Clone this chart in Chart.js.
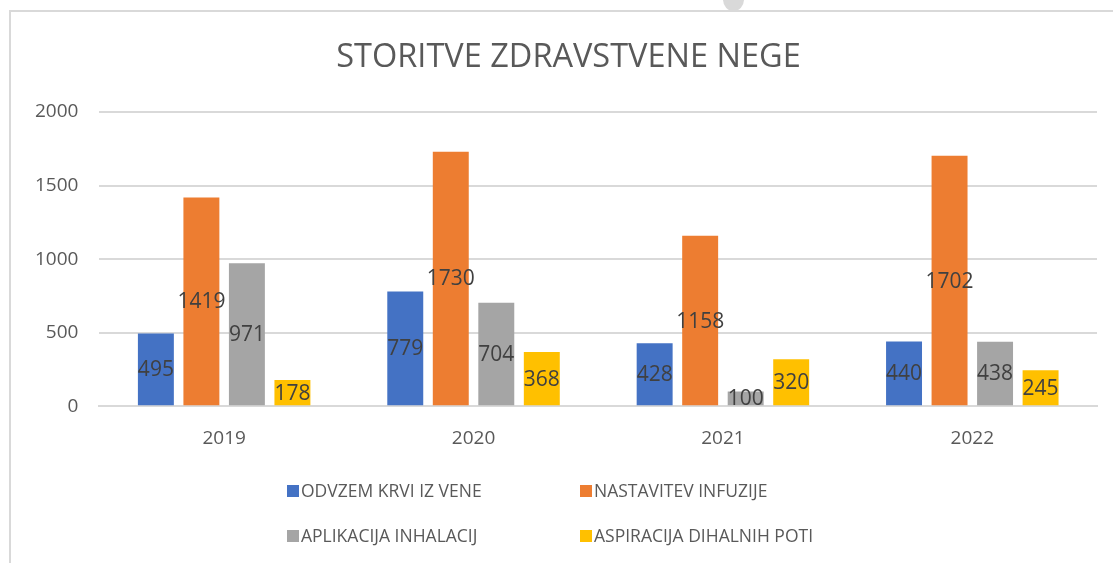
<!DOCTYPE html>
<html>
<head>
<meta charset="utf-8">
<script src="https://cdn.jsdelivr.net/npm/chart.js@4/dist/chart.umd.min.js"></script>
<style>
  html, body { margin: 0; padding: 0; background: #fff; overflow: hidden; }
  #wrap { position: relative; width: 1113px; height: 563px; }
  #frame { position: absolute; left: 9px; top: 10px; width: 1200px; height: 700px; border: 2px solid #d9d9d9; box-sizing: border-box; }
  #blob { position: absolute; left: 723px; top: -12px; width: 21px; height: 23px; border-radius: 50%; background: #d9d9d9; }
  #Chart { position: absolute; left: 0; top: 0; }
</style>
</head>
<body>
<div id="wrap">
  <div id="frame"></div>
  <div id="blob"></div>
  <canvas id="Chart" width="1113" height="563"></canvas>
</div>
<script>
const years = ['2019', '2020', '2021', '2022']
const odvzem = [495, 779, 428, 440]
const infuzije = [1419, 1730, 1158, 1702]
const inhalacij = [971, 704, 100, 438]
const aspiracija = [178, 368, 320, 245]
const yTicks = [0, 500, 1000, 1500, 2000]

const font = "'Open Sans', sans-serif"
const ctx = document.getElementById('Chart').getContext('2d');

// values written in the middle of each bar, like the Excel "center" label
const barLabels = {
    id: 'barLabels',
    afterLayout(chart) {
        // title in the original sits a bit right of the canvas middle
        chart.titleBlock.left = 40
    },
    afterDatasetsDraw(chart) {
        const c = chart.ctx
        c.save()
        c.font = '21px ' + font
        c.fillStyle = '#404040'
        c.textAlign = 'center'
        c.textBaseline = 'middle'
        chart.data.datasets.forEach((ds, i) => {
            chart.getDatasetMeta(i).data.forEach((bar, j) => {
                c.fillText(ds.data[j], bar.x, (bar.y + bar.base) / 2 + 1)
            })
        })
        c.restore()
    }
}

// legend in two columns under the chart
const sideLegend = {
    id: 'sideLegend',
    afterDraw(chart) {
        const c = chart.ctx
        const cols = [287, 580]
        const rows = [491, 536]
        c.save()
        c.font = '17.5px ' + font
        c.textBaseline = 'middle'
        chart.data.datasets.forEach((ds, i) => {
            let x = cols[i % 2]
            let y = rows[Math.floor(i / 2)]
            c.fillStyle = ds.backgroundColor
            c.fillRect(x, y - 6, 12, 12)
            c.fillStyle = '#595959'
            c.fillText(ds.label, x + 14, y + 1)
        })
        c.restore()
    }
}

let myChart = new Chart(ctx, {
    type: 'bar',
    data: {
        labels: years,
        datasets: [{
            label: 'ODVZEM KRVI IZ VENE',
            data: odvzem,
            backgroundColor: '#4472C4'
        }, {
            label: 'NASTAVITEV INFUZIJE',
            data: infuzije,
            backgroundColor: '#ED7D31'
        }, {
            label: 'APLIKACIJA INHALACIJ',
            data: inhalacij,
            backgroundColor: '#A5A5A5'
        }, {
            label: 'ASPIRACIJA DIHALNIH POTI',
            data: aspiracija,
            backgroundColor: '#FFC000'
        }]
    },
    options: {
        responsive: false,
        animation: false,
        events: [],
        categoryPercentage: 0.73,
        barPercentage: 0.79,
        layout: {
            padding: { left: 14, right: 16, top: 0, bottom: 100 }
        },
        plugins: {
            legend: { display: false },
            tooltip: { enabled: false },
            title: {
                display: true,
                text: 'STORITVE ZDRAVSTVENE NEGE',
                color: '#595959',
                font: { family: font, size: 32.5, weight: 'normal' },
                padding: { top: 38, bottom: 35 }
            }
        },
        scales: {
            x: {
                grid: { display: false },
                border: { display: true, color: '#d9d9d9', width: 2 },
                ticks: { color: '#595959', font: { family: font, size: 19 }, padding: 13 }
            },
            y: {
                min: 0,
                max: 2000,
                afterBuildTicks: (axis) => { axis.ticks = yTicks.map(v => ({ value: v })) },
                grid: { color: '#d9d9d9', lineWidth: 2, drawTicks: false },
                border: { display: false },
                ticks: {
                    color: '#595959',
                    font: { family: font, size: 19 },
                    padding: 21,
                    callback: (v) => String(v)
                }
            }
        }
    },
    plugins: [barLabels, sideLegend]
});
</script>
</body>
</html>
